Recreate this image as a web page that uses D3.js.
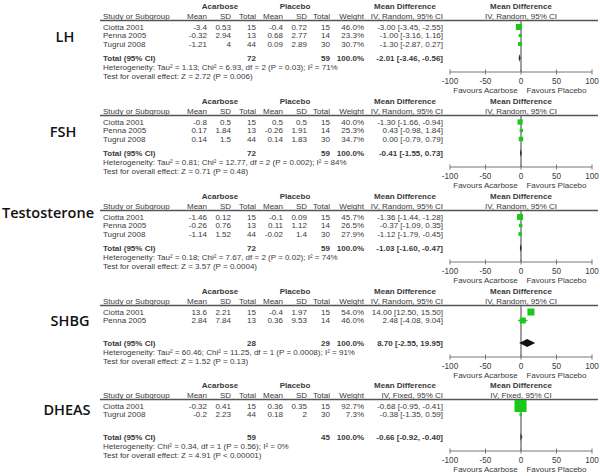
<!DOCTYPE html>
<html><head><meta charset="utf-8">
<script src="https://cdn.jsdelivr.net/npm/d3@7"></script>
<style>body{margin:0;background:#fff} svg{display:block}</style>
</head><body>
<svg id="c" width="600" height="476"></svg>
<script>
// ---------- DATA ----------
const outcomes = ["LH", "FSH", "Testosterone", "SHBG", "DHEAS"];
const models = ["Random", "Random", "Random", "Random", "Fixed"];
const studyNames = [
  ["Ciotta 2001", "Penna 2005", "Tugrul 2008"],
  ["Ciotta 2001", "Penna 2005", "Tugrul 2008"],
  ["Ciotta 2001", "Penna 2005", "Tugrul 2008"],
  ["Ciotta 2001", "Penna 2005"],
  ["Ciotta 2001", "Tugrul 2008"]
];
const acarboseMean = [[-3.4, -0.32, -1.21], [-0.8, 0.17, 0.14], [-1.46, -0.26, -1.14], [13.6, 2.84], [-0.32, -0.2]];
const acarboseSD   = [[0.53, 2.94, 4], [0.5, 1.84, 1.5], [0.12, 0.76, 1.52], [2.21, 7.84], [0.41, 2.23]];
const acarboseN    = [[15, 13, 44], [15, 13, 44], [15, 13, 44], [15, 13], [15, 44]];
const placeboMean  = [[-0.4, 0.68, 0.09], [0.5, -0.26, 0.14], [-0.1, 0.11, -0.02], [-0.4, 0.36], [0.36, 0.18]];
const placeboSD    = [[0.72, 2.77, 2.89], [0.5, 1.91, 1.83], [0.09, 1.12, 1.4], [1.97, 9.53], [0.35, 2]];
const placeboN     = [[15, 14, 30], [15, 14, 30], [15, 14, 30], [15, 14], [15, 30]];
const weights      = [[46.0, 23.3, 30.7], [40.0, 25.3, 34.7], [45.7, 26.5, 27.9], [54.0, 46.0], [92.7, 7.3]];
const meanDiff     = [[-3.00, -1.00, -1.30], [-1.30, 0.43, 0.00], [-1.36, -0.37, -1.12], [14.00, 2.48], [-0.68, -0.38]];
const ciLow        = [[-3.45, -3.16, -2.87], [-1.66, -0.98, -0.79], [-1.44, -1.09, -1.79], [12.50, -4.08], [-0.95, -1.35]];
const ciHigh       = [[-2.55, 1.16, 0.27], [-0.94, 1.84, 0.79], [-1.28, 0.35, -0.45], [15.50, 9.04], [-0.41, 0.59]];
const totalAcarbose = [72, 72, 72, 28, 59];
const totalPlacebo  = [59, 59, 59, 29, 45];
const totalMD   = [-2.01, -0.41, -1.03, 8.70, -0.66];
const totalLow  = [-3.46, -1.55, -1.60, -2.55, -0.92];
const totalHigh = [-0.56, 0.73, -0.47, 19.95, -0.40];
const heterogeneity = [
  "Heterogeneity: Tau² = 1.13; Chi² = 6.93, df = 2 (P = 0.03); I² = 71%",
  "Heterogeneity: Tau² = 0.81; Chi² = 12.77, df = 2 (P = 0.002); I² = 84%",
  "Heterogeneity: Tau² = 0.18; Chi² = 7.67, df = 2 (P = 0.02); I² = 74%",
  "Heterogeneity: Tau² = 60.46; Chi² = 11.25, df = 1 (P = 0.0008); I² = 91%",
  "Heterogeneity: Chi² = 0.34, df = 1 (P = 0.56); I² = 0%"
];
const overallEffect = [
  "Test for overall effect: Z = 2.72 (P = 0.006)",
  "Test for overall effect: Z = 0.71 (P = 0.48)",
  "Test for overall effect: Z = 3.57 (P = 0.0004)",
  "Test for overall effect: Z = 1.52 (P = 0.13)",
  "Test for overall effect: Z = 4.91 (P < 0.00001)"
];
const axisTicks = [-100, -50, 0, 50, 100];
const favoursLabels = ["Favours Acarbose", "Favours Placebo"];

// ---------- LAYOUT ----------
const panelY = [6, 101, 196, 291, 385];
const labelPos = [[65, 37], [63, 132], [48, 213], [70, 321], [67, 410]];
const col = {study: 103, aM: 207, aSD: 231, aN: 256, pM: 283, pSD: 307, pN: 330, w: 364, md: 443};
const txt = "#3a3a3a";
const green = "#19c819";

const svg = d3.select("#c");
const x = d3.scaleLinear().domain([-100, 100]).range([450, 592]);
const sq = d3.scaleLinear().domain([0, 100]).range([0, 13]);
const fmt2 = d3.format(".2f");
const fmtCI = (m, l, h) => `${fmt2(m)} [${fmt2(l)}, ${fmt2(h)}]`.replace(/−/g, "-");

function t(g, x0, y0, s, anchor, bold) {
  return g.append("text").attr("x", x0).attr("y", y0).attr("dy", "0.35em")
    .attr("text-anchor", anchor || "start")
    .attr("font-family", "Liberation Sans, Arial, sans-serif")
    .attr("font-size", 8).attr("font-weight", bold ? "bold" : "normal")
    .attr("fill", txt).text(s);
}

outcomes.forEach((name, p) => {
  svg.append("text").attr("x", labelPos[p][0]).attr("y", labelPos[p][1]).attr("dy", "0.35em")
    .attr("text-anchor", "middle").attr("font-family", "Open Sans, sans-serif")
    .attr("font-weight", 600).attr("font-size", 14.5).attr("fill", "#111").text(name);

  const g = svg.append("g").attr("transform", `translate(0,${panelY[p]})`);
  const ci = `IV, ${models[p]}, 95% CI`;
  t(g, 220, 0, "Acarbose", "middle", true);
  t(g, 295, 0, "Placebo", "middle", true);
  t(g, 405, 0, "Mean Difference", "middle", true);
  t(g, x(0), 0, "Mean Difference", "middle", true);
  t(g, col.study, 10, "Study or Subgroup", "start");
  t(g, col.aM, 10, "Mean", "end");
  t(g, col.aSD, 10, "SD", "end");
  t(g, col.aN, 10, "Total", "end");
  t(g, col.pM, 10, "Mean", "end");
  t(g, col.pSD, 10, "SD", "end");
  t(g, col.pN, 10, "Total", "end");
  t(g, col.w, 10, "Weight", "end");
  t(g, col.md, 10, ci, "end");
  t(g, x(0), 10, ci, "middle");
  g.append("line").attr("x1", 100).attr("x2", 598).attr("y1", 14.5).attr("y2", 14.5)
    .attr("stroke", "#555").attr("stroke-width", 1.3);

  const rowY = i => 21 + i * 8.5;
  studyNames[p].forEach((s, i) => {
    const y = rowY(i);
    t(g, col.study, y, s);
    t(g, col.aM, y, String(acarboseMean[p][i]), "end");
    t(g, col.aSD, y, String(acarboseSD[p][i]), "end");
    t(g, col.aN, y, String(acarboseN[p][i]), "end");
    t(g, col.pM, y, String(placeboMean[p][i]), "end");
    t(g, col.pSD, y, String(placeboSD[p][i]), "end");
    t(g, col.pN, y, String(placeboN[p][i]), "end");
    t(g, col.w, y, weights[p][i].toFixed(1) + "%", "end");
    t(g, col.md, y, fmtCI(meanDiff[p][i], ciLow[p][i], ciHigh[p][i]), "end");
  });

  const yT = 52;
  t(g, col.study, yT, "Total (95% CI)", "start", true);
  t(g, col.aN, yT, String(totalAcarbose[p]), "end", true);
  t(g, col.pN, yT, String(totalPlacebo[p]), "end", true);
  t(g, col.w, yT, "100.0%", "end", true);
  t(g, col.md, yT, fmtCI(totalMD[p], totalLow[p], totalHigh[p]), "end", true);
  t(g, col.study, 61, heterogeneity[p]);
  t(g, col.study, 70, overallEffect[p]);

  // forest
  const axisY = 66;
  g.append("line").attr("x1", x(0)).attr("x2", x(0)).attr("y1", 15).attr("y2", axisY)
    .attr("stroke", "#888").attr("stroke-width", 1.6);
  const ax = g.append("g").attr("transform", `translate(0,${axisY})`);
  ax.append("line").attr("x1", x(-100)).attr("x2", x(100)).attr("stroke", "#777").attr("stroke-width", 1);
  ax.selectAll("line.tk").data(axisTicks).join("line").attr("class", "tk")
    .attr("x1", d => x(d)).attr("x2", d => x(d)).attr("y1", -2.5).attr("y2", 2.5)
    .attr("stroke", "#777").attr("stroke-width", 1);
  ax.selectAll("text").data(axisTicks).join("text")
    .attr("x", d => x(d)).attr("y", 9).attr("dy", "0.35em").attr("text-anchor", "middle")
    .attr("font-family", "Liberation Sans, Arial, sans-serif").attr("font-size", 8.2).attr("fill", txt)
    .text(d => String(d));
  t(g, (x(-100) + x(0)) / 2, 18 + axisY, favoursLabels[0], "middle");
  t(g, (x(0) + x(100)) / 2, 18 + axisY, favoursLabels[1], "middle");

  studyNames[p].forEach((s, i) => {
    const y = rowY(i);
    g.append("line").attr("x1", x(ciLow[p][i])).attr("x2", x(ciHigh[p][i]))
      .attr("y1", y).attr("y2", y).attr("stroke", green).attr("stroke-width", 1.5);
    const w = Math.max(2.5, sq(weights[p][i]));
    g.append("rect").attr("x", x(meanDiff[p][i]) - w / 2).attr("y", y - w / 2)
      .attr("width", w).attr("height", w).attr("fill", green);
  });
  const lo = x(totalLow[p]), hi = Math.max(x(totalHigh[p]), lo + 2), mx = x(totalMD[p]);
  const dh = 4;
  g.append("path").attr("d", `M${lo},${yT}L${mx},${yT - dh}L${hi},${yT}L${mx},${yT + dh}Z`)
    .attr("fill", p === 3 ? "#111" : "#333");
});
</script>
</body></html>
